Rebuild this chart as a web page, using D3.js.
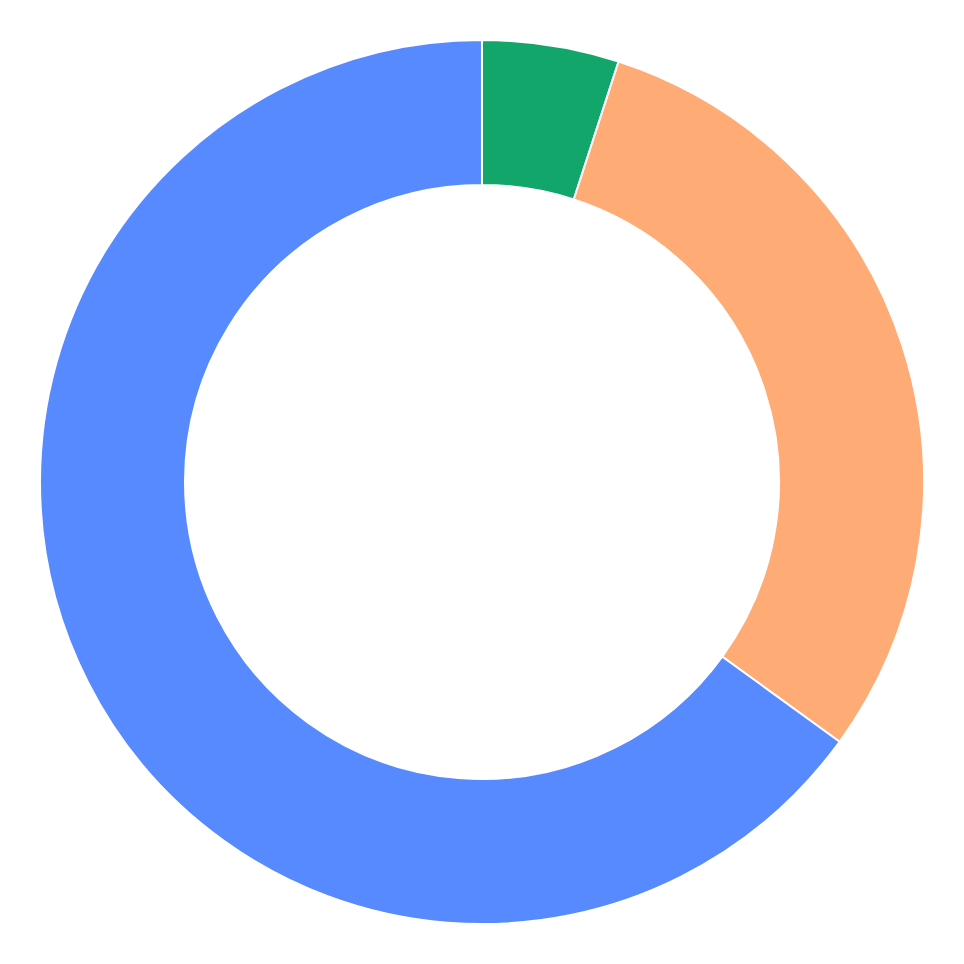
<!DOCTYPE html>
<html>
<head>
<meta charset="utf-8">
<script src="https://cdn.jsdelivr.net/npm/d3@7"></script>
<style>
  html, body { margin: 0; padding: 0; background: #fff; }
  svg { display: block; }
</style>
</head>
<body>
<svg id="chart" width="964" height="964"></svg>
<script>
// slice data, clockwise from 12 o'clock
const labels = ['A', 'B', 'C']
const values = [5, 30, 65]
const colors = ['#12a66b', '#ffab76', '#5789ff']

const width = 964, height = 964
const cx = 482, cy = 482
const outerR = 442, innerR = 297

const svg = d3.select('#chart')
const g = svg.append('g').attr('transform', `translate(${cx},${cy})`)

const pie = d3.pie().sort(null).value(d => d)
const arc = d3.arc().innerRadius(innerR).outerRadius(outerR)

g.selectAll('path.slice')
  .data(pie(values))
  .enter()
  .append('path')
  .attr('class', 'slice')
  .attr('d', arc)
  .attr('fill', (d, i) => colors[i])
  .attr('stroke', '#fff')
  .attr('stroke-width', 2)
  .append('title')
  .text((d, i) => `${labels[i]}: ${values[i]}`)
</script>
</body>
</html>
